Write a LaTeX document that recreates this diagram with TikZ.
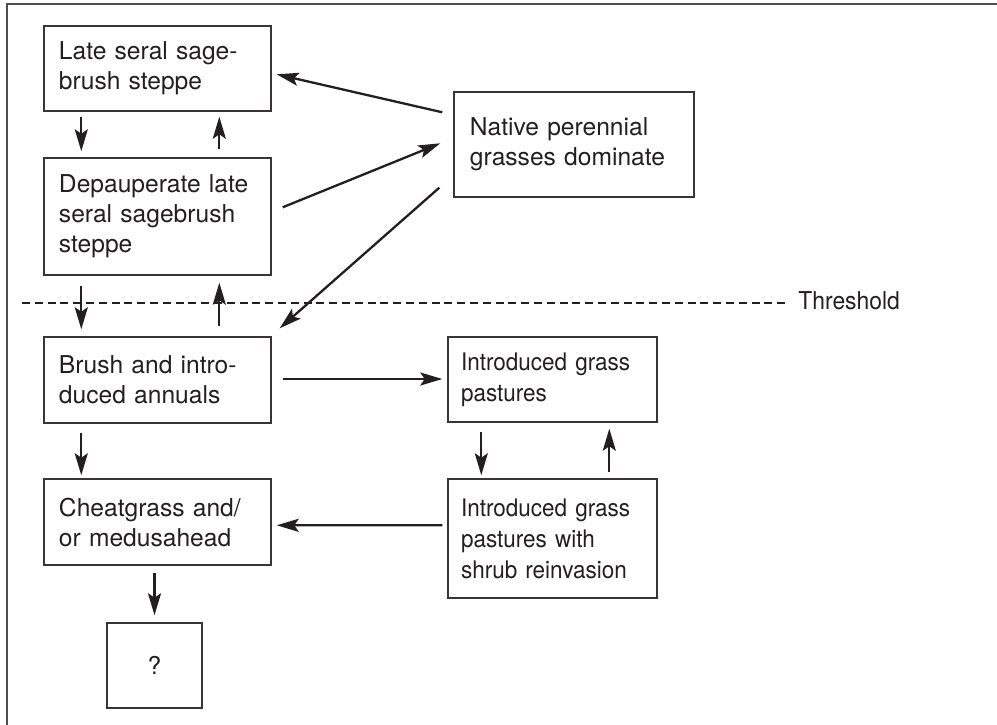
\documentclass[tikz,border=0pt]{standalone}
\usepackage{fontspec}
\setmainfont{TeX Gyre Heros}
\newfontfamily\condfont[FakeStretch=0.93]{TeX Gyre Heros}
\usetikzlibrary{arrows.meta,calc}
\definecolor{ink}{HTML}{231F20}
\tikzset{
  stbox/.style={draw=ink!90, line width=0.7bp, inner sep=0pt, align=left, text=ink,
    font=\fontsize{12.3bp}{15bp}\selectfont},
  condbox/.style={stbox, font=\condfont\fontsize{12.1bp}{15.5bp}\selectfont},
  arr/.style={draw=ink, line width=1.15bp, -{Stealth[length=11bp,width=6.5bp,inset=2.2bp]}},
  frameline/.style={draw=ink!80, line width=1bp},
  thline/.style={draw=ink, line width=0.95bp, dash pattern=on 4bp off 2.4bp},
}
\begin{document}
\begin{tikzpicture}[x=0.5bp, y=-0.5bp]
\useasboundingbox (0,0) rectangle (997,725);
% frame
\coordinate (fbl) at (7,725);
\coordinate (ftl) at (7,4);
\coordinate (ftr) at (997,4);
\draw[frameline] (fbl) -- (ftl) -- (ftr);

% boxes
\node[stbox, minimum width=113.5bp, minimum height=42.5bp, text width=98.5bp] (A) at (157.5,68.5)
  {Late seral sage-\\brush steppe};
\node[stbox, minimum width=113.5bp, minimum height=58.5bp, text width=98.5bp] (B) at (157.5,216.5)
  {Depauperate late\\seral sagebrush\\steppe};
\node[stbox, minimum width=120bp, minimum height=52.5bp, text width=104bp] (N) at (574,144.5)
  {Native perennial\\grasses dominate};
\node[stbox, minimum width=113.5bp, minimum height=43bp, text width=98.5bp] (Br) at (157.5,380)
  {Brush and intro-\\duced annuals};
\node[condbox, minimum width=104.5bp, minimum height=42.5bp, text width=91.5bp] (IG) at (552.5,379.5)
  {Introduced grass\\pastures};
\node[stbox, minimum width=113.5bp, minimum height=43bp, text width=98.5bp] (C) at (157.5,522)
  {Cheatgrass and/\\or medusahead};
\node[condbox, minimum width=104.5bp, minimum height=59.5bp, text width=91.5bp] (IS) at (552.5,538.5)
  {Introduced grass\\pastures with\\shrub reinvasion};
\node[stbox, minimum width=47.5bp, minimum height=42.5bp, align=center] (Q) at (154.5,665.5) {?};

% threshold
\node[anchor=west, inner sep=0pt, text=ink, font=\condfont\fontsize{12.3bp}{15bp}\selectfont] (T) at (798,301) {Threshold};
\coordinate (thL) at (22,303);
\draw[thline] (thL) -- ($(thL -| T.west)+(-4bp,0)$);

% vertical arrows, left column
\draw[arr] ($(A.south west)+(19bp,-2.5bp)$) -- ($(B.north west)+(19bp,3bp)$);
\draw[arr] ($(B.north west)+(88bp,4bp)$) -- ($(A.south west)+(88bp,-2.5bp)$);
\draw[arr] ($(B.south west)+(19bp,-5bp)$) -- ($(Br.north west)+(19bp,3.5bp)$);
\draw[arr] ($(Br.north west)+(88bp,5bp)$) -- ($(B.south west)+(88bp,-3.5bp)$);
\draw[arr] ($(Br.south west)+(19bp,-4.5bp)$) -- ($(C.north west)+(19bp,1.5bp)$);
\draw[arr] ($(C.south -| Q.north)+(0,-3.5bp)$) -- ($(Q.north)+(0,3.5bp)$);

% vertical arrows, right column
\draw[arr] ($(IG.south west)+(17bp,-4.5bp)$) -- ($(IS.north west)+(17bp,1.5bp)$);
\draw[arr] ($(IS.north west)+(81bp,3bp)$) -- ($(IG.south west)+(81bp,-3bp)$);

% horizontal arrows
\draw[arr] ($(Br.east)+(5.5bp,0.5bp)$) -- ($(IG.west)+(-2.5bp,0.25bp)$);
\draw[arr] ($(IS.north west)+(-2.5bp,-23.5bp)$) -- ($(C.north east)+(2.5bp,-23.5bp)$);

% diagonal arrows
\draw[arr] ($(N.north west)+(-5.5bp,-10.5bp)$) -- ($(A.north east)+(2.5bp,-24.5bp)$);
\draw[arr] ($(B.north east)+(5.5bp,-25bp)$) -- ($(N.north west)+(-6.5bp,-26bp)$);
\draw[arr] ($(N.south west)+(-7bp,5bp)$) -- ($(Br.north east)+(4bp,4bp)$);
\end{tikzpicture}
\end{document}
